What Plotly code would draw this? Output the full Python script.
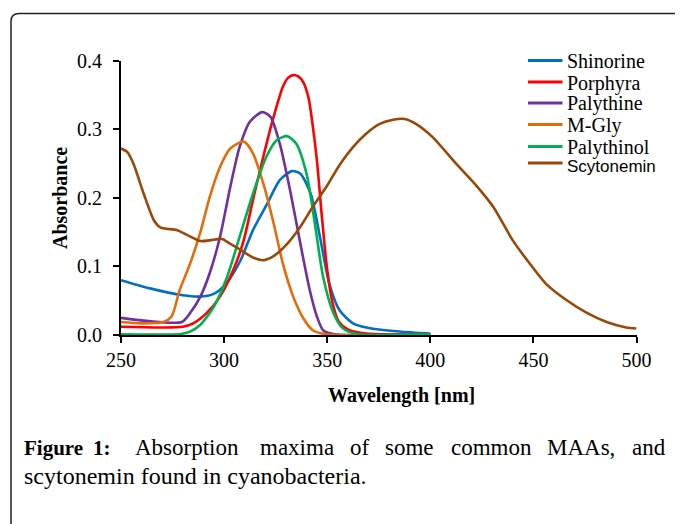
import plotly.graph_objects as go

# ---------------- data ----------------
shinorine_wl = [250, 264, 280, 288, 295, 301, 308, 314, 321, 327, 333, 337, 342, 346.5, 351, 356, 362.5, 369, 385, 400]
shinorine_abs = [0.080, 0.068, 0.058, 0.056, 0.060, 0.075, 0.109, 0.153, 0.192, 0.226, 0.239, 0.235, 0.206, 0.143, 0.075, 0.036, 0.017, 0.011, 0.005, 0.002]

porphyra_wl = [250, 280, 285, 291.5, 298, 304.5, 309.5, 314, 319, 324, 328.5, 331, 333.5, 336, 338.5, 341, 343, 345, 347.5, 350, 352.5, 355.5, 360, 369, 400]
porphyra_abs = [0.012, 0.012, 0.017, 0.032, 0.056, 0.095, 0.138, 0.197, 0.260, 0.318, 0.362, 0.375, 0.379, 0.377, 0.368, 0.345, 0.305, 0.255, 0.170, 0.095, 0.048, 0.020, 0.008, 0.002, 0.001]

palythine_wl = [250, 279.5, 283.5, 288.5, 293, 298, 303, 307.5, 312.5, 318.5, 322.5, 327, 332, 337, 341.5, 345, 348, 353, 400]
palythine_abs = [0.025, 0.019, 0.032, 0.056, 0.090, 0.143, 0.216, 0.274, 0.311, 0.325, 0.318, 0.279, 0.211, 0.133, 0.066, 0.027, 0.007, 0.0015, 0.001]

mgly_wl = [250, 260, 270.5, 274.5, 278.5, 283.5, 288.5, 293, 298, 303, 309.5, 314, 319, 324, 328.5, 333.5, 338.5, 343, 349.5, 400]
mgly_abs = [0.019, 0.017, 0.019, 0.027, 0.066, 0.104, 0.150, 0.201, 0.245, 0.272, 0.282, 0.265, 0.221, 0.163, 0.104, 0.056, 0.024, 0.007, 0.001, 0.0]

palythinol_wl = [250, 279, 283.5, 288.5, 295, 301.5, 307.5, 314, 320.5, 325.5, 330.5, 335, 340, 344, 348, 353, 357.5, 364, 400]
palythinol_abs = [0.001, 0.0015, 0.005, 0.015, 0.041, 0.085, 0.143, 0.206, 0.260, 0.284, 0.290, 0.279, 0.235, 0.163, 0.085, 0.032, 0.010, 0.0015, 0.001]

scytonemin_wl = [250, 253, 256, 261, 266, 269, 272, 277, 282, 288.5, 293, 299, 303, 308, 314, 319, 324, 330, 337, 343,
                 350, 356, 362.5, 369, 375.5, 382, 387.5, 393, 401, 412.5, 422, 430.5, 440, 448, 456, 466, 475.5, 485.5, 495, 500]
scytonemin_abs = [0.272, 0.267, 0.250, 0.206, 0.167, 0.157, 0.155, 0.153, 0.146, 0.137, 0.138, 0.140, 0.133, 0.124, 0.113, 0.109, 0.115, 0.131, 0.158, 0.187,
                  0.218, 0.248, 0.274, 0.294, 0.308, 0.314, 0.315, 0.308, 0.289, 0.250, 0.219, 0.187, 0.138, 0.105, 0.075, 0.051, 0.033, 0.019, 0.011, 0.0095]

series_names = ["Shinorine", "Porphyra", "Palythine", "M-Gly", "Palythinol", "Scytonemin"]
series_colors = ["#0070C0", "#FF0000", "#7030A0", "#E46C0A", "#00B050", "#984807"]
series_data = [(shinorine_wl, shinorine_abs), (porphyra_wl, porphyra_abs), (palythine_wl, palythine_abs),
               (mgly_wl, mgly_abs), (palythinol_wl, palythinol_abs), (scytonemin_wl, scytonemin_abs)]

x_ticks = [250, 300, 350, 400, 450, 500]
y_ticks = [0.0, 0.1, 0.2, 0.3, 0.4]

caption_words_1 = ["Figure", "1:", "Absorption", "maxima", "of", "some", "common", "MAAs,", "and"]
caption_line_2 = "scytonemin found in cyanobacteria."

# ---------------- layout helpers ----------------
W, H = 683, 524
OFF = 8  # page body margin offset of the embedded figure
SERIF = "Liberation Serif, Times New Roman, serif"
SANS = "Liberation Sans, Arial, sans-serif"


def PX(x):
    return (x - OFF) / W


def PY(y):
    return 1 - (y - OFF) / H


fig = go.Figure()
for (wl, ab), name, col in zip(series_data, series_names, series_colors):
    fig.add_trace(go.Scatter(x=wl, y=ab, mode="lines", name=name,
                             line=dict(color=col, width=2.6, shape="spline", smoothing=0.7),
                             showlegend=False))

axis_common = dict(showline=True, linecolor="black", linewidth=2, ticks="outside", ticklen=6,
                   tickwidth=2, tickcolor="black", showgrid=False, zeroline=False, automargin=False,
                   tickfont=dict(family=SERIF, size=20, color="black"))

fig.update_layout(
    width=W, height=H,
    margin=dict(l=0, r=0, t=0, b=0, pad=0, autoexpand=False),
    paper_bgcolor="white", plot_bgcolor="white",
    showlegend=False,
    xaxis=dict(domain=[PX(121), PX(636.5)], range=[250, 500], tickvals=x_ticks,
               ticklabelstandoff=0, **axis_common),
    yaxis=dict(domain=[PY(335), PY(60.7)], range=[0, 0.4], tickvals=y_ticks, tickformat=".1f",
               ticklabelstandoff=7, **axis_common),
)

shapes = []
annotations = []

# outer frame with rounded top corners
r = 8
L, T, R, B = 11, 13.5, 681.5, 540
path = (f"M {PX(L)},{PY(B)} L {PX(L)},{PY(T + r)} Q {PX(L)},{PY(T)} {PX(L + r)},{PY(T)} "
        f"L {PX(R - r)},{PY(T)} Q {PX(R)},{PY(T)} {PX(R)},{PY(T + r)} L {PX(R)},{PY(B)}")
shapes.append(dict(type="path", xref="paper", yref="paper", path=path,
                   line=dict(color="#222222", width=1.5)))

# axis titles
annotations.append(dict(xref="paper", yref="paper", x=PX(60), y=PY(198), text="<b>Absorbance</b>",
                        textangle=-90, showarrow=False, xanchor="center", yanchor="middle",
                        font=dict(family=SERIF, size=20, color="black")))
annotations.append(dict(xref="paper", yref="paper", x=PX(401), y=PY(395), text="<b>Wavelength [nm]</b>",
                        showarrow=False, xanchor="center", yanchor="middle",
                        font=dict(family=SERIF, size=20, color="black")))

# legend (manual)
legend_y = [60.5, 82, 103, 124.5, 146.5, 163]
for name, col, ly in zip(series_names, series_colors, legend_y):
    shapes.append(dict(type="line", xref="paper", yref="paper", x0=PX(528), x1=PX(562.5),
                       y0=PY(ly), y1=PY(ly), line=dict(color=col, width=3)))
    fam, sz, dy = (SANS, 17, 3) if name == "Scytonemin" else (SERIF, 20, 1)
    annotations.append(dict(xref="paper", yref="paper", x=PX(565), y=PY(ly + dy), text=name,
                            showarrow=False, xanchor="left", yanchor="middle",
                            font=dict(family=fam, size=sz, color="black")))

# caption line 1 (justified: word positions)
word_x = [22, 91, 133, 258, 348, 383.5, 448.5, 545, 630]
for w, x in zip(caption_words_1, word_x):
    bold = w in ("Figure", "1:")
    annotations.append(dict(xref="paper", yref="paper", x=PX(x), y=PY(447.5), text=f"<b>{w}</b>" if bold else w,
                            showarrow=False, xanchor="left", yanchor="middle",
                            font=dict(family=SERIF, size=21 if bold else 23, color="black")))
annotations.append(dict(xref="paper", yref="paper", x=PX(22), y=PY(475.5), text=caption_line_2,
                        showarrow=False, xanchor="left", yanchor="middle",
                        font=dict(family=SERIF, size=24, color="black")))

fig.update_layout(shapes=shapes, annotations=annotations)
fig.write_html("out.html")
